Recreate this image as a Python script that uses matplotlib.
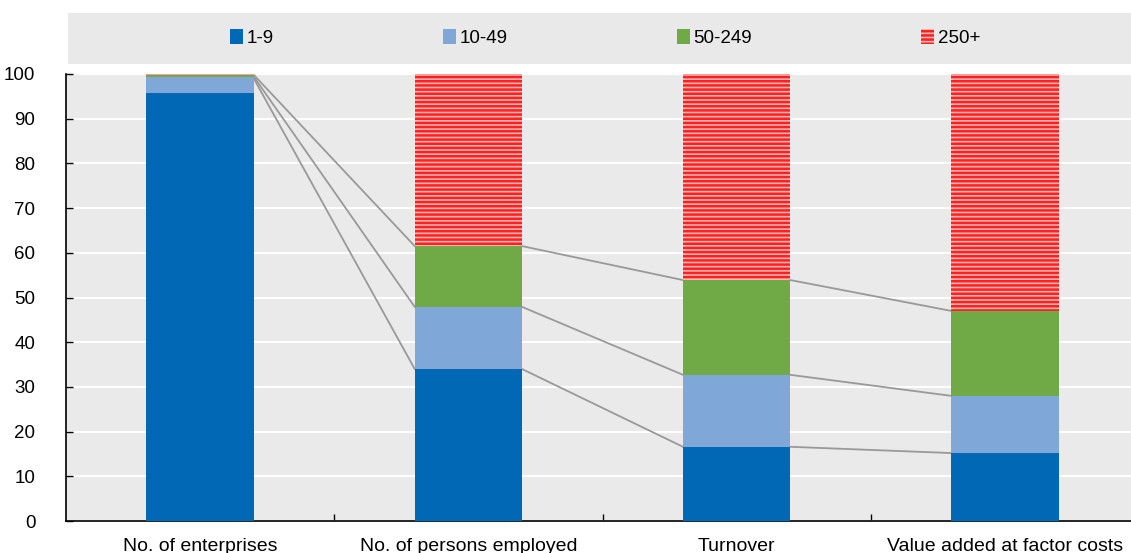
import matplotlib.pyplot as plt
import numpy as np
from matplotlib.patches import Rectangle

# Share of each enterprise size class (%)
categories = ["No. of enterprises", "No. of persons employed", "Turnover",
              "Value added at factor costs"]
size_classes = ["1-9", "10-49", "50-249", "250+"]
micro = [95.8, 34.0, 16.6, 15.2]
small = [3.5, 13.9, 16.1, 12.8]
medium = [0.5, 13.6, 21.2, 19.0]
large = [0.2, 38.5, 46.1, 53.0]
# where the connector lines leave the first bar (they all start near its top)
first_link_start = [99.0, 99.4, 99.8]

plt.rcParams["font.family"] = ["Liberation Sans Narrow", "Liberation Sans", "DejaVu Sans"]
plt.rcParams["hatch.linewidth"] = 1.8
plt.rcParams["hatch.color"] = "#ff2020"

colors = ["#0068b4", "#7fa7d8", "#70aa46", "#ffb3b3"]
series = [micro, small, medium, large]

fig = plt.figure(figsize=(11.31, 5.53), dpi=100)
ax = fig.add_axes([66 / 1131, 1 - 521 / 553, 1073 / 1131, 447 / 553])
ax.set_facecolor("#eaeaea")

x = np.arange(len(categories))
width = 0.4
bottom = np.zeros(len(categories))
handles = []
for vals, col, lab in zip(series, colors, size_classes):
    if lab == "250+":
        h = ax.bar(x, vals, width, bottom=bottom, color=col, edgecolor="#ff2020",
                   hatch="----", linewidth=0, label=lab, zorder=3)
    else:
        h = ax.bar(x, vals, width, bottom=bottom, color=col, linewidth=0,
                   label=lab, zorder=3)
    handles.append(h)
    bottom = bottom + np.array(vals)

# connector lines between the cumulative tops of the first three classes
cum = np.cumsum(np.array(series[:3]), axis=0)
for k in range(3):
    for i in range(len(categories) - 1):
        y0 = first_link_start[k] if i == 0 else cum[k][i]
        ax.plot([x[i] + width / 2, x[i + 1] - width / 2], [y0, cum[k][i + 1]],
                color="#999999", lw=1.3, zorder=2)

ax.set_xlim(-0.5, 3.5)
ax.set_ylim(0, 100)
ax.set_yticks(range(0, 101, 10))
ax.yaxis.grid(True, color="white", lw=1.5, zorder=1)
ax.set_axisbelow(True)
ax.set_xticks(x)
ax.set_xticklabels(categories, fontsize=14)
ax.set_xticks(np.arange(0.5, 3.5, 1), minor=True)
ax.tick_params(axis="x", which="major", length=0, pad=12)
ax.tick_params(axis="x", which="minor", direction="in", length=5, width=1)
ax.tick_params(axis="y", direction="in", length=5, width=1, labelsize=13.5, pad=22)
for s in ["top", "right"]:
    ax.spines[s].set_visible(False)
ax.spines["left"].set_linewidth(1.2)
ax.spines["bottom"].set_linewidth(1.2)

# grey legend band above the plot
fig.patches.append(Rectangle((68 / 1131, 1 - 64 / 553), 1, 51 / 553,
                             transform=fig.transFigure, facecolor="#e9e9e9",
                             edgecolor="none", zorder=0))
fig.legend(handles=handles, labels=size_classes, loc="center",
           bbox_to_anchor=(0.535, 1 - 38 / 553), ncol=4, frameon=False,
           fontsize=13.5, handlelength=0.7, handleheight=0.9, handletextpad=0.2,
           columnspacing=9.0)

fig.savefig("out.png", dpi=100)
